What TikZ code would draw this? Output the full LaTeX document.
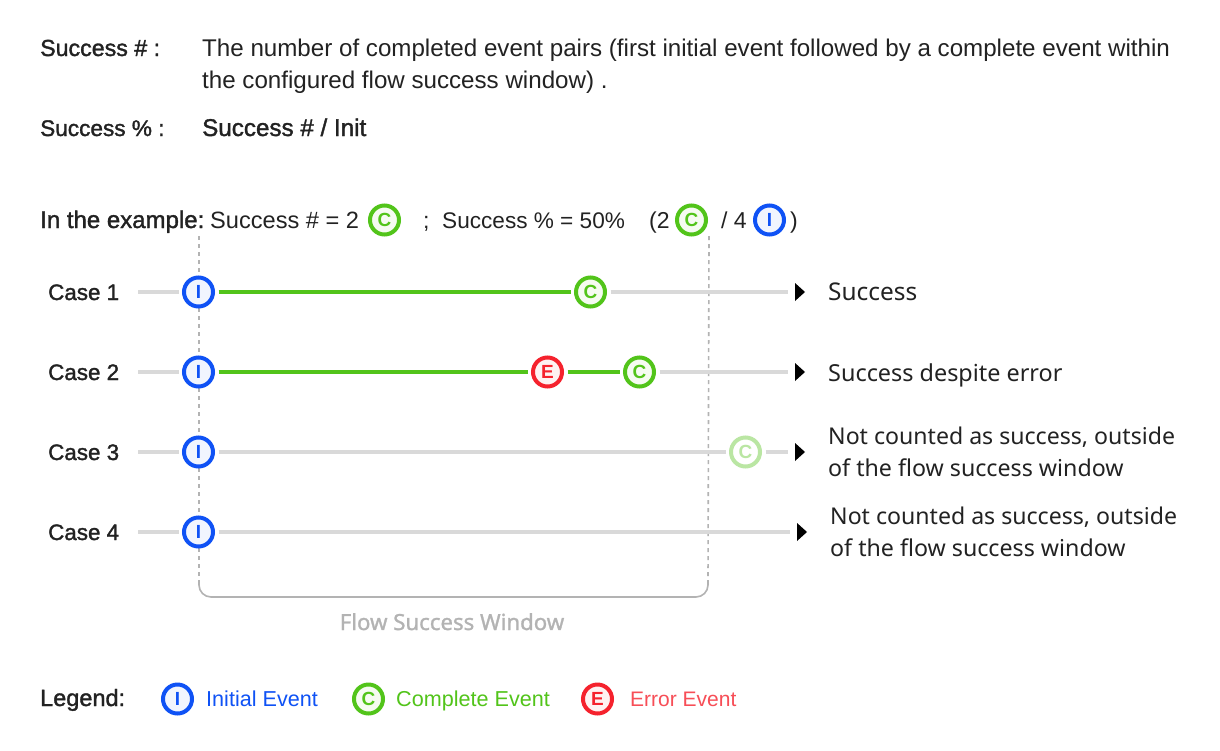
\documentclass[tikz,border=0pt]{standalone}
\usepackage{fontspec}
\usetikzlibrary{calc}
\setmainfont{Liberation Sans}
\newfontfamily\med[FakeBold=1.5]{Liberation Sans}
\newfontfamily\noto{Noto Sans}
\newfontfamily\notom[FakeBold=1.2]{Noto Sans}
\definecolor{ink}{HTML}{222222}
\definecolor{blueE}{HTML}{0F52F5}
\definecolor{greenE}{HTML}{52C41A}
\definecolor{redE}{HTML}{F5222D}
\definecolor{rail}{HTML}{D9D9D9}
\definecolor{win}{HTML}{B3B3B3}
\definecolor{fade}{HTML}{BAE6A3}
\newcommand{\fs}[1]{\fontsize{#1}{#1}\selectfont}
\tikzset{
  x=1pt,y=-1pt,
  txt/.style={anchor=base west,inner sep=0pt,text=ink,font=\fs{#1}},
  txt/.default=23,
  bold/.style={anchor=base west,inner sep=0pt,text=ink,font=\fs{#1}\med},
  bold/.default=23,
  side/.style={anchor=base west,inner sep=0pt,text=ink,font=\noto\fs{#1}},
  side/.default=23,
  ev/.style={circle,line width=4pt,minimum size=29pt,inner sep=0pt,outer sep=5.5pt,font=\fs{19}\bfseries},
  evI/.style={ev,draw=blueE,fill=blueE!6,text=blueE},
  evC/.style={ev,draw=greenE,fill=greenE!6,text=greenE},
  evE/.style={ev,draw=redE,fill=redE!6,text=redE},
  evF/.style={ev,draw=fade,fill=white,text=fade},
  railg/.style={draw=rail,line width=4pt},
  railc/.style={draw=greenE,line width=4pt},
  dots/.style={draw=win,line width=1.6pt,dash pattern=on 4pt off 4pt},
  brk/.style={draw=win,line width=1.6pt},
  tip/.style={fill=black}
}
\begin{document}
\begin{tikzpicture}
\useasboundingbox[fill=white] (0,0) rectangle (1220,750);
% definitions
\node[bold=23.2] (t1) at (40,56) {Success \# :};
\node[txt=24.15] (t2) at (202,56) {The number of completed event pairs (first initial event followed by a complete event within};
\node[txt=24.15] (t3) at (202,88) {the configured flow success window) .};
\node[bold=22.6] (t4) at (40,136) {Success \% :};
\node[bold=24.2] (t5) at (202,136) {Success \# / Init};
% example
\node[bold=24] (x1) at (40,228) {In the example:};
\node[txt=23.6] (x2) at (210,228) {Success \# = 2};
\node[evC] (xc1) at (384.5,220) {C};
\node[txt] (x3) at (423,228) {;};
\node[txt=22.6] (x4) at (442,228) {Success \% = 50\%};
\node[txt] (x5) at (649,228) {(2};
\node[evC] (xc2) at (691.5,220) {C};
\node[txt] (x6) at (721,228) {/ 4};
\node[evI] (xi) at (769.5,220) {I};
\node[txt] (x7) at (790,228) {)};
% window
\coordinate (wlt) at (199,236);
\coordinate (wrt) at (709,236);
\coordinate (wlb) at (199,580);
\coordinate (wrb) at (708,580);
\draw[dots] (wlt) -- (wlb);
\draw[dots] (wrt) -- (wrb);
\draw[brk,rounded corners=12pt] (wlb) |- (454,597) -| (wrb);
\node[anchor=base,inner sep=0pt,text=win,font=\notom\fs{22.2}] (wt) at (452,630) {Flow Success Window};
% cases
\foreach \n/\y/\b in {1/292/300,2/372/380,3/452/460,4/532/540}{
  \node[bold=22.4] (case\n) at (48,\b) {Case \n};
  \coordinate (s\n) at (138,\y);
  \node[evI] (i\n) at (198.5,\y) {I};
}
\coordinate (e1) at (788,292);
\coordinate (e2) at (788,372);
\coordinate (e3) at (788,452);
\coordinate (e4) at (790,532);
\node[evC] (c1) at (590.5,292) {C};
\node[evE] (r2) at (547.5,372) {E};
\node[evC] (c2) at (639.5,372) {C};
\node[evF] (c3) at (745.5,452) {C};
\foreach \n in {1,2,3,4} \draw[railg] (s\n) -- (i\n);
\draw[railc] (i1) -- (c1);
\draw[railg] (c1) -- (e1);
\draw[railc] (i2) -- (r2);
\draw[railc] (r2) -- (c2);
\draw[railg] (c2) -- (e2);
\draw[railg] (i3) -- (c3);
\draw[railg] (c3) -- (e3);
\draw[railg] (i4) -- (e4);
\foreach \n in {1,2,3,4}
  \fill[tip] ($(e\n)+(7,-9)$) -- ++(10,9) -- ++(-10,9) -- cycle;
% outcomes
\node[side=24.4] (o1) at (828,300.5) {Success};
\node[side=23.4] (o2) at (828,381) {Success despite error};
\node[side=23.1] (o3) at (828,444) {Not counted as success, outside};
\node[side=23.2] (o3b) at (828,476) {of the flow success window};
\node[side=23.1] (o4) at (830,524) {Not counted as success, outside};
\node[side=23.2] (o4b) at (830,556) {of the flow success window};
% legend
\node[bold=23.5] (lg) at (40,706) {Legend:};
\node[evI] (li) at (177.5,699) {I};
\node[txt=21.6,text=blueE] (lit) at (206,706) {Initial Event};
\node[evC] (lc) at (368.5,699) {C};
\node[txt=21.6,text=greenE] (lct) at (396,706) {Complete Event};
\node[evE] (le) at (597.5,699) {E};
\node[txt=21,text=redE!80] (let) at (630,706) {Error Event};
\end{tikzpicture}
\end{document}
